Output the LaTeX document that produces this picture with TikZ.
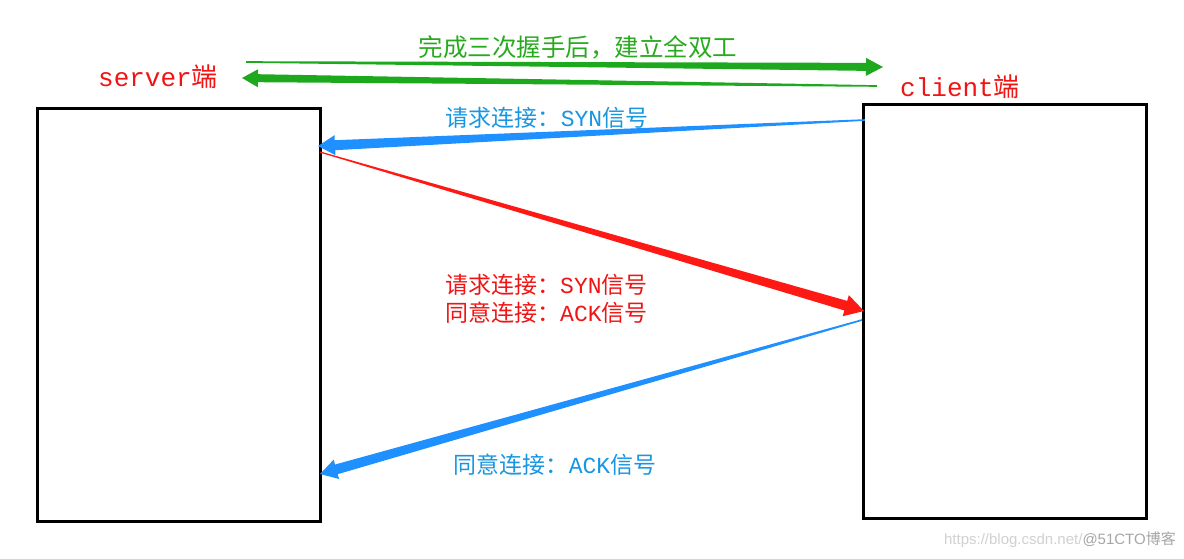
\documentclass[tikz,border=0pt]{standalone}
\usepackage{fontspec}
\usetikzlibrary{calc}
\newfontfamily\cjk{Noto Sans CJK SC}
\newfontfamily\monofnt{Liberation Mono}
\newfontfamily\wmfont{Liberation Sans}
\definecolor{grn}{RGB}{30,168,30}
\definecolor{gtext}{RGB}{40,170,30}
\definecolor{blu}{RGB}{30,144,255}
\definecolor{btext}{RGB}{25,150,225}
\definecolor{rd}{RGB}{255,25,20}
\definecolor{rtext}{RGB}{240,20,20}
% tapered arrow: #1 start, #2 tip, #3 start half-width, #4 end half-width, #5 head length, #6 head half-width, #7 colour
\newcommand{\taperarrow}[7]{%
  \path ($(#2)!#5!(#1)$) coordinate (tmpH);
  \fill[#7] ($(#1)!#3!90:(#2)$) -- ($(tmpH)!#4!-90:(#1)$) -- ($(tmpH)!#6!-90:(#1)$) -- (#2)
    -- ($(tmpH)!#6!90:(#1)$) -- ($(tmpH)!#4!90:(#1)$) -- ($(#1)!#3!-90:(#2)$) -- cycle;
}
\tikzset{
  endbox/.style={draw=black, line width=2.6pt, minimum width=283pt, minimum height=413pt, inner sep=0pt, anchor=north west},
  lbl/.style={inner sep=0pt, font=\fontsize{23}{28}\selectfont},
  endlbl/.style={inner sep=0pt, text=rtext, font=\fontsize{26}{30}\selectfont},
}
\begin{document}
\begin{tikzpicture}[x=1pt,y=-1pt]
\useasboundingbox (0,0) rectangle (1184,558);
\fill[white] (0,0) rectangle (1184,558);
% boxes
\node[endbox] (server) at (36,107) {};
\node[endbox, minimum height=414pt] (client) at (862,103) {};
% end labels
\node[endlbl] (slbl) at (158,77) {{\monofnt server}{\cjk 端}};
\node[endlbl] (clbl) at (960,87) {{\monofnt client}{\cjk 端}};
% green top text
\node[inner sep=0pt, text=gtext, font=\cjk\fontsize{24.5}{28}\selectfont] (gtxt) at (578,47) {完成三次握手后，建立全双工};
% arrow coordinates
\coordinate (g1s) at (246,62);
\coordinate (g1e) at (883,67);
\coordinate (g2s) at (877,86);
\coordinate (g2e) at (242,78);
\coordinate (b1s) at (865,120);
\coordinate (b1e) at (318,146);
\coordinate (r1s) at (320,152);
\coordinate (r1e) at (864,311);
\coordinate (b2s) at (862,320);
\coordinate (b2e) at (320,474);
% arrows
\taperarrow{g1s}{g1e}{0.8pt}{4pt}{17pt}{9pt}{grn}
\taperarrow{g2s}{g2e}{0.8pt}{4pt}{16pt}{9pt}{grn}
\taperarrow{b1s}{b1e}{0.8pt}{5pt}{17pt}{10pt}{blu}
\taperarrow{r1s}{r1e}{0.6pt}{5pt}{19pt}{11pt}{rd}
\taperarrow{b2s}{b2e}{0.8pt}{5pt}{17pt}{10pt}{blu}
% labels
\node[lbl, text=btext] (syn1) at (547,118) {{\cjk 请求连接：}{\monofnt SYN}{\cjk 信号}};
\node[lbl, text=rtext, anchor=west] (syn2) at (445,285) {{\cjk 请求连接：}{\monofnt SYN}{\cjk 信号}};
\node[lbl, text=rtext, anchor=west] (ack2) at (445,313) {{\cjk 同意连接：}{\monofnt ACK}{\cjk 信号}};
\node[lbl, text=btext] (ack1) at (555,465) {{\cjk 同意连接：}{\monofnt ACK}{\cjk 信号}};
% watermark
\node[inner sep=0pt, anchor=east, font=\fontsize{15}{18}\selectfont] (wm) at (1176,540) {\textcolor{black!18}{\wmfont https://blog.csdn.net/}\textcolor{black!35}{\wmfont @51CTO}\textcolor{black!35}{\cjk 博客}};
\end{tikzpicture}
\end{document}
